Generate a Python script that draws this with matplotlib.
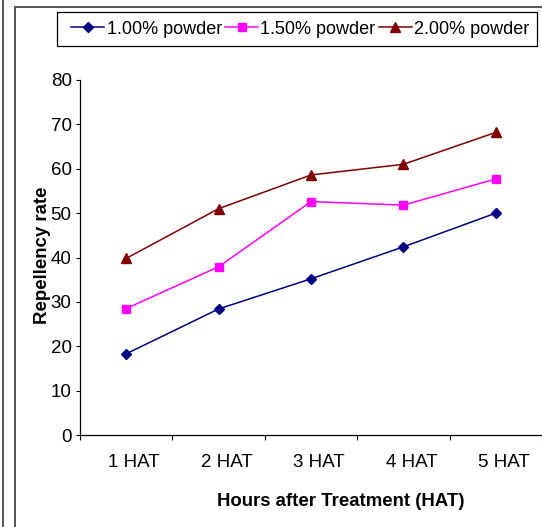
import numpy as np
import matplotlib
matplotlib.use('Agg')
import matplotlib.pyplot as plt
from matplotlib.lines import Line2D
from matplotlib.patches import Rectangle
from matplotlib.transforms import ScaledTranslation

plt.rcParams['font.family'] = ['Liberation Sans', 'DejaVu Sans']

hours = ['1 HAT', '2 HAT', '3 HAT', '4 HAT', '5 HAT']
powder_100 = [18.3, 28.4, 35.2, 42.4, 50.0]
powder_150 = [28.5, 37.9, 52.6, 51.8, 57.7]
powder_200 = [39.8, 51.0, 58.6, 61.0, 68.2]
series_names = ['1.00% powder', '1.50% powder', '2.00% powder']

W, H = 542, 527
fig = plt.figure(figsize=(W / 100, H / 100), dpi=100)

# plot area in pixels: x 80..542, y 80..435
ax = fig.add_axes([80 / W, (H - 435) / H, 462 / W, 355 / H])

x = np.arange(1, len(hours) + 1)
ax.plot(x, powder_100, color='#000080', marker='D', ms=5.5, lw=1.1, label=series_names[0])
ax.plot(x, powder_150, color='#FF00FF', marker='s', ms=5.8, lw=1.1, label=series_names[1])
ax.plot(x, powder_200, color='#800000', marker='^', ms=6.5, lw=1.1, label=series_names[2])

ax.set_xlim(0.5, len(hours) + 0.5)
ax.set_ylim(0, 80)
ax.set_yticks(np.arange(0, 81, 10))
ax.set_xticks(x)
ax.set_xticklabels(hours)
ax.set_xticks(np.arange(0.5, len(hours) + 1, 1), minor=True)
ax.tick_params(axis='x', which='major', length=0, pad=14, labelsize=13.5)
ax.tick_params(axis='x', which='minor', length=3.6, width=0.8, direction='out')
ax.tick_params(axis='y', length=3, width=0.8, pad=3, labelsize=13.5)

# category labels sit a little right of the points, as in the original
shift = ScaledTranslation(8 / 100, 0, fig.dpi_scale_trans)
for lab in ax.get_xticklabels():
    lab.set_transform(lab.get_transform() + shift)

for s in ['top', 'right']:
    ax.spines[s].set_visible(False)
for s in ['left', 'bottom']:
    ax.spines[s].set_linewidth(0.9)
    ax.spines[s].set_color('black')

ax.set_xlabel('Hours after Treatment (HAT)', fontsize=13.4, fontweight='bold')
ax.xaxis.set_label_coords((341 - 80) / 462, -(493 - 435) / 355)
ax.set_ylabel('Repellency rate', fontsize=13.4, fontweight='bold')
ax.yaxis.set_label_coords((51 - 80) / 462, 0.505)

# legend box drawn by hand, entries placed inside it
fig.add_artist(Rectangle((56.5 / W, 1 - 46 / H), 480 / W, 34 / H, transform=fig.transFigure,
                         facecolor='white', edgecolor='black', lw=0.9))
leg = fig.legend(loc='center left', bbox_to_anchor=(71 / W, 1 - 29 / H), ncol=3,
                 frameon=False, fontsize=13,
                 handlelength=1.85, handletextpad=0.12, columnspacing=0.17,
                 borderpad=0, borderaxespad=0)

# outer chart frame
frame_color = '#555555'
fig.add_artist(Line2D([2.5 / W, 2.5 / W], [0, 1], color=frame_color, lw=1.4))
fig.add_artist(Line2D([14.5 / W, 14.5 / W], [0, 1 - 6.5 / H], color=frame_color, lw=1.4))
fig.add_artist(Line2D([14.5 / W, 1], [1 - 6.5 / H, 1 - 6.5 / H], color=frame_color, lw=1.4))

fig.savefig('out.png', dpi=100)
